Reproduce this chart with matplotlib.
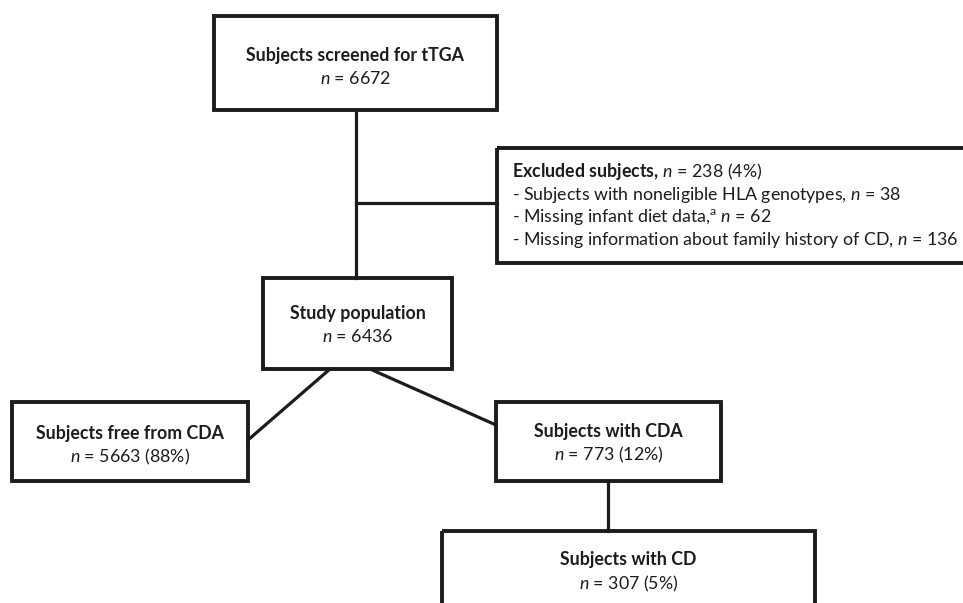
import matplotlib
matplotlib.use("Agg")
import matplotlib.pyplot as plt
from matplotlib.patches import Rectangle

plt.rcParams['font.family'] = ['Lato', 'DejaVu Sans']
plt.rcParams['mathtext.fontset'] = 'custom'
plt.rcParams['mathtext.rm'] = 'Lato'
plt.rcParams['mathtext.it'] = 'Lato:italic'
plt.rcParams['mathtext.bf'] = 'Lato:bold'

# flowchart content
titles = ["Subjects screened for tTGA", "Study population",
          "Subjects free from CDA", "Subjects with CDA", "Subjects with CD"]
counts = ["6672", "6436", "5663 (88%)", "773 (12%)", "307 (5%)"]

excl_total = "238 (4%)"
excl_items = ["Subjects with noneligible HLA genotypes", "Missing infant diet data,",
              "Missing information about family history of CD"]
excl_counts = ["38", "62", "136"]

# box layout in pixels: x0, y0, x1, y1, title offset from top
boxes = [(214, 16, 497, 110, 39), (263, 278, 452, 369, 35), (12, 402, 248, 481, 31),
         (496, 402, 721, 481, 29), (442, 531, 815, 640, 29)]
excl_box = (497, 148, 990, 263)

fig = plt.figure(figsize=(9.63, 6.03), dpi=100)
ax = fig.add_axes([0, 0, 1, 1])
ax.set_xlim(0, 963)
ax.set_ylim(603, 0)
ax.axis('off')

box_lw = 2.8
line_lw = 2.3
col = '#1e1b1c'
fs = 12.8


def draw_box(b):
    ax.add_patch(Rectangle((b[0], b[1]), b[2] - b[0], b[3] - b[1], fill=False,
                           edgecolor=col, linewidth=box_lw, zorder=3, clip_on=False))


for b, t, c in zip(boxes, titles, counts):
    draw_box(b)
    cx = (b[0] + b[2]) / 2
    ty = b[1] + b[4]
    ax.text(cx, ty, t, ha='center', va='center', fontsize=fs, fontweight='bold', color=col)
    ax.text(cx, ty + 24, r"$\it{n}$ = " + c, ha='center', va='center', fontsize=fs, color=col)

draw_box(excl_box)
ax.text(512, 172, r"$\bf{Excluded\ subjects,}\,\it{n}$ = " + excl_total,
        ha='left', va='center', fontsize=fs, color=col)
ax.text(512, 195, "- " + excl_items[0] + r", $\it{n}$ = " + excl_counts[0],
        ha='left', va='center', fontsize=fs, color=col)
ax.text(512, 217, "- " + excl_items[1] + r"$^{\rm a}$ $\it{n}$ = " + excl_counts[1],
        ha='left', va='center', fontsize=fs, color=col)
ax.text(512, 240, "- " + excl_items[2] + r", $\it{n}$ = " + excl_counts[2],
        ha='left', va='center', fontsize=fs, color=col)

# connectors
ax.plot([356, 356], [110, 278], color=col, lw=line_lw)
ax.plot([356, 497], [203, 203], color=col, lw=line_lw)
ax.plot([330, 248], [369, 440], color=col, lw=line_lw)
ax.plot([370, 496], [369, 425], color=col, lw=line_lw)
ax.plot([608, 608], [481, 531], color=col, lw=line_lw)

fig.savefig("out.png", dpi=100)
